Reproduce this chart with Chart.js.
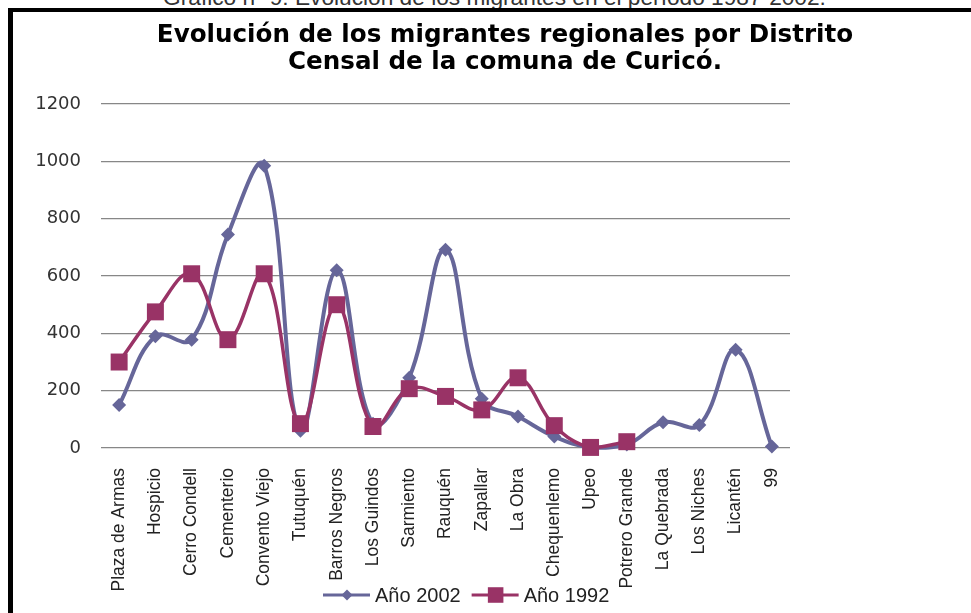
<!DOCTYPE html>
<html>
<head>
<meta charset="utf-8">
<script src="https://cdn.jsdelivr.net/npm/chart.js@4.4.1/dist/chart.umd.min.js"></script>
<style>
  html, body { margin: 0; padding: 0; background: #fff; overflow: hidden; width: 971px; height: 613px; }
  #caption { position: absolute; left: 0; top: -14px; width: 989px; text-align: center; font: 22.7px "Liberation Sans", Arial, sans-serif; line-height: 22.7px; color: #333; white-space: nowrap; }
  #frame { position: absolute; left: 8px; top: 8px; width: 2000px; height: 2000px; border-left: 5px solid #000; border-top: 4px solid #000; }
  #chart { position: absolute; left: 0; top: 0; }
</style>
</head>
<body>
<div id="caption">Gráfico nº 9: Evolución de los migrantes en el período 1987-2002.</div>
<div id="frame"></div>
<canvas id="chart" width="1010" height="613"></canvas>
<script>
const districts = ["Plaza de Armas", "Hospicio", "Cerro Condell", "Cementerio", "Convento Viejo",
    "Tutuquén", "Barros Negros", "Los Guindos", "Sarmiento", "Rauquén", "Zapallar", "La Obra",
    "Chequenlemo", "Upeo", "Potrero Grande", "La Quebrada", "Los Niches", "Licantén", "99"];
const migrants2002 = [150, 390, 378, 745, 985, 60, 620, 85, 245, 692, 172, 110, 40, 2, 12, 90, 80, 343, 5];
const migrants1992 = [300, 475, 608, 378, 608, 85, 500, 75, 207, 180, 133, 245, 78, 2, 22, null, null, null, null];
const yMin = 0, yMax = 1200, yStep = 200;

// title sits centred over the whole frame, not over the plot
const wideTitle = {
    id: "wideTitle",
    afterLayout(chart) {
        const t = chart.titleBlock;
        t.left = 0;
        t.right = chart.width;
        t.width = chart.width;
    }
};

// legend drawn as line + marker, placed over the bottom like in the original
const lineLegend = {
    id: "lineLegend",
    afterDraw(chart) {
        const ctx = chart.ctx;
        const y = 595;
        let x = 323;
        ctx.save();
        ctx.font = '20px "Liberation Sans", Arial, sans-serif';
        ctx.textBaseline = "middle";
        chart.data.datasets.forEach((ds) => {
            ctx.strokeStyle = ds.borderColor;
            ctx.lineWidth = 3;
            ctx.beginPath();
            ctx.moveTo(x, y);
            ctx.lineTo(x + 47, y);
            ctx.stroke();
            ctx.fillStyle = ds.borderColor;
            Chart.helpers.drawPoint(ctx, {
                pointStyle: ds.pointStyle,
                rotation: 0,
                radius: ds.legendRadius,
                borderWidth: 0
            }, x + 24, y);
            ctx.fillStyle = "#222";
            ctx.fillText(ds.label, x + 52, y + 1);
            x += 52 + ctx.measureText(ds.label).width + 11;
        });
        ctx.restore();
    }
};

const ctx = document.getElementById("chart");

new Chart(ctx, {
    type: "line",
    data: {
        labels: districts,
        datasets: [{
            label: "Año 2002",
            data: migrants2002,
            borderColor: "#666699",
            backgroundColor: "#666699",
            borderWidth: 4,
            pointStyle: "rectRot",
            pointRadius: 7,
            pointHoverRadius: 7,
            pointBorderWidth: 0,
            legendRadius: 5.5,
            tension: 0.4,
            clip: false,
            order: 1
        }, {
            label: "Año 1992",
            data: migrants1992,
            borderColor: "#993366",
            backgroundColor: "#993366",
            borderWidth: 3.5,
            pointStyle: "rect",
            pointRadius: 12,
            pointHoverRadius: 12,
            pointBorderWidth: 0,
            legendRadius: 11,
            tension: 0.4,
            clip: false,
            order: 0
        }]
    },
    options: {
        responsive: false,
        animation: false,
        devicePixelRatio: 1,
        layout: {
            padding: { left: 35, right: 220, top: 0, bottom: 20 }
        },
        plugins: {
            legend: { display: false },
            tooltip: { enabled: false },
            title: {
                display: true,
                text: ["Evolución de los migrantes regionales por Distrito", "Censal de la comuna de Curicó."],
                color: "#000",
                font: { family: "DejaVu Sans", size: 24.6, weight: "bold", lineHeight: 1.1 },
                padding: { top: 22.5, bottom: 27.5 }
            }
        },
        scales: {
            y: {
                min: yMin,
                max: yMax,
                ticks: {
                    stepSize: yStep,
                    padding: 20,
                    color: "#333",
                    font: { family: "DejaVu Sans", size: 18 },
                    callback: (v) => String(v)
                },
                grid: { color: "#878787", lineWidth: 1.3, drawTicks: false },
                border: { display: false },
                afterFit: (scale) => { scale.width = 66; }
            },
            x: {
                offset: true,
                ticks: {
                    autoSkip: false,
                    maxRotation: 90,
                    minRotation: 90,
                    padding: 20,
                    color: "#222",
                    font: { family: "Liberation Sans", size: 17.5 }
                },
                grid: { display: false, drawTicks: false },
                border: { display: false },
                afterFit: (scale) => { scale.height = 145; }
            }
        }
    },
    plugins: [wideTitle, lineLegend]
});
</script>
</body>
</html>
